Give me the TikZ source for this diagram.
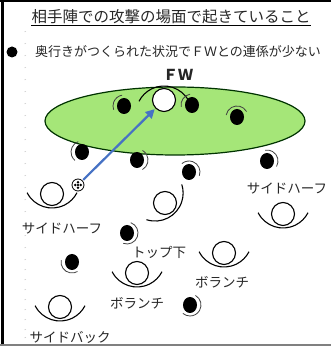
\documentclass[tikz,border=0pt]{standalone}
\usepackage{fontspec}
\newfontfamily\jp{Noto Sans CJK JP}
\usetikzlibrary{arrows.meta,shapes.geometric}
\definecolor{fieldgreen}{RGB}{165,230,120}
\definecolor{passblue}{RGB}{70,114,196}
\tikzset{
  player/.style={circle, draw=black, line width=1.1pt, fill=white, minimum size=23pt, inner sep=0pt},
  defender/.style={ellipse, fill=black, minimum width=14pt, minimum height=16pt, inner sep=0pt},
  cupline/.style={line width=1.1pt},
  gaze/.style={draw=gray!50!black, line width=0.8pt},
  lbl/.style={font=\jp\fontsize{13.5}{14}\selectfont, inner sep=0pt, text=black!85},
  passarrow/.style={draw=passblue, line width=2.2pt, -{Triangle[length=9pt,width=9pt]}, shorten <=1pt, shorten >=1pt},
  ballstyle/.style={circle, draw=black, line width=0.8pt, fill=white, minimum size=12pt, inner sep=0pt},
  parmark/.style={draw=gray!45, line width=0.5pt}
}
\newcommand\cupat[2]{\begin{scope}[shift={(#1.center)}, rotate=#2]\draw[cupline] (-24.9,1.3) arc[start angle=207, end angle=333, radius=28pt];\end{scope}}
\newcommand\gazeat[3]{\draw[gaze] ([shift={(#2:11pt)}]#1.center) arc[start angle=#2, end angle=#3, radius=11pt];}
\begin{document}
\begin{tikzpicture}[x=1pt,y=1pt]
\useasboundingbox (0,0) rectangle (331,350);
% frame
\draw[line width=2pt] (0,349) -- (331,349);
\draw[line width=3pt] (2.5,350) -- (2.5,4);
\draw[gray, line width=2pt] (0,5) -- (331,5);
% paragraph marks
\foreach \yy in {318,306,294,282,270,258,246,234,222,210,198,186,174,162,150,138,126,114,102,90,80,70,60,50,40,30,20,12}
  \draw[parmark] (24.5,\yy) -- (26,\yy+0.8);
% title
\node[font=\jp\fontsize{15.5}{16}\selectfont, inner sep=0pt, text=black!85] (title) at (171,333) {相手陣での攻撃の場面で起きていること};
\draw[line width=0.8pt] ([yshift=-1.5pt]title.south west) -- ([yshift=-1.5pt]title.south east);
% bullet line
\node[circle, fill=black, minimum size=11pt, inner sep=0pt] (bul) at (12,298) {};
\node[font=\jp\fontsize{13}{14}\selectfont, inner sep=0pt, text=black!85] (sub) at (178,298) {奥行きがつくられた状況でＦＷとの連係が少ない};
\node[font=\jp\bfseries\fontsize{15}{16}\selectfont, inner sep=0pt, text=black!85] (fwlabel) at (178,275) {ＦＷ};
% green zone
\draw[fill=fieldgreen, draw=black!80!green, line width=1.2pt] (175,229) ellipse [x radius=130pt, y radius=34pt];
% attackers
\node[player] (fw) at (164,250) {};
\cupat{fw}{180}
\node[player] (shl) at (52,156) {};
\cupat{shl}{0}
\node[player] (shm) at (165,147) {};
\cupat{shm}{45}
\node[player] (shr) at (283,136) {};
\cupat{shr}{0}
\node[player] (volr) at (224,97) {};
\cupat{volr}{0}
\node[player] (volm) at (137,77) {};
\cupat{volm}{0}
\node[player] (sb) at (60,43) {};
\cupat{sb}{0}
% ball
\node[ballstyle] (ball) at (78,165) {};
\foreach \dx/\dy in {0/0,-2.8/0,2.8/0,0/2.8,0/-2.8}
  \fill ([shift={(\dx,\dy)}]ball.center) circle[radius=1.4pt];
% defenders
\node[defender] (d1) at (124,244) {};
\gazeat{d1}{100}{200}
\node[defender] (d2) at (192,245) {};
\gazeat{d2}{100}{190}
\node[defender] (d3) at (237,233) {};
\gazeat{d3}{30}{170}
\node[defender] (d4) at (82,198) {};
\gazeat{d4}{110}{230}
\node[defender] (d5) at (137,190) {};
\gazeat{d5}{-60}{60}
\node[defender] (d6) at (189,178) {};
\gazeat{d6}{-20}{130}
\node[defender] (d7) at (267,189) {};
\gazeat{d7}{-30}{100}
\node[defender] (d8) at (127,117) {};
\gazeat{d8}{70}{-110}
\node[defender] (d9) at (72,88) {};
\gazeat{d9}{170}{300}
\node[defender] (d10) at (190,45) {};
\gazeat{d10}{60}{-130}
% pass
\draw[passarrow] (ball) -- (fw);
% labels
\node[lbl] (l1) at (62,121) {サイドハーフ};
\node[lbl] (l2) at (287,161) {サイドハーフ};
\node[lbl] (l3) at (159,98) {トップ下};
\node[lbl] (l4) at (222,68) {ボランチ};
\node[lbl] (l5) at (137,47) {ボランチ};
\node[lbl] (l6) at (70,13) {サイドバック};
\end{tikzpicture}
\end{document}
